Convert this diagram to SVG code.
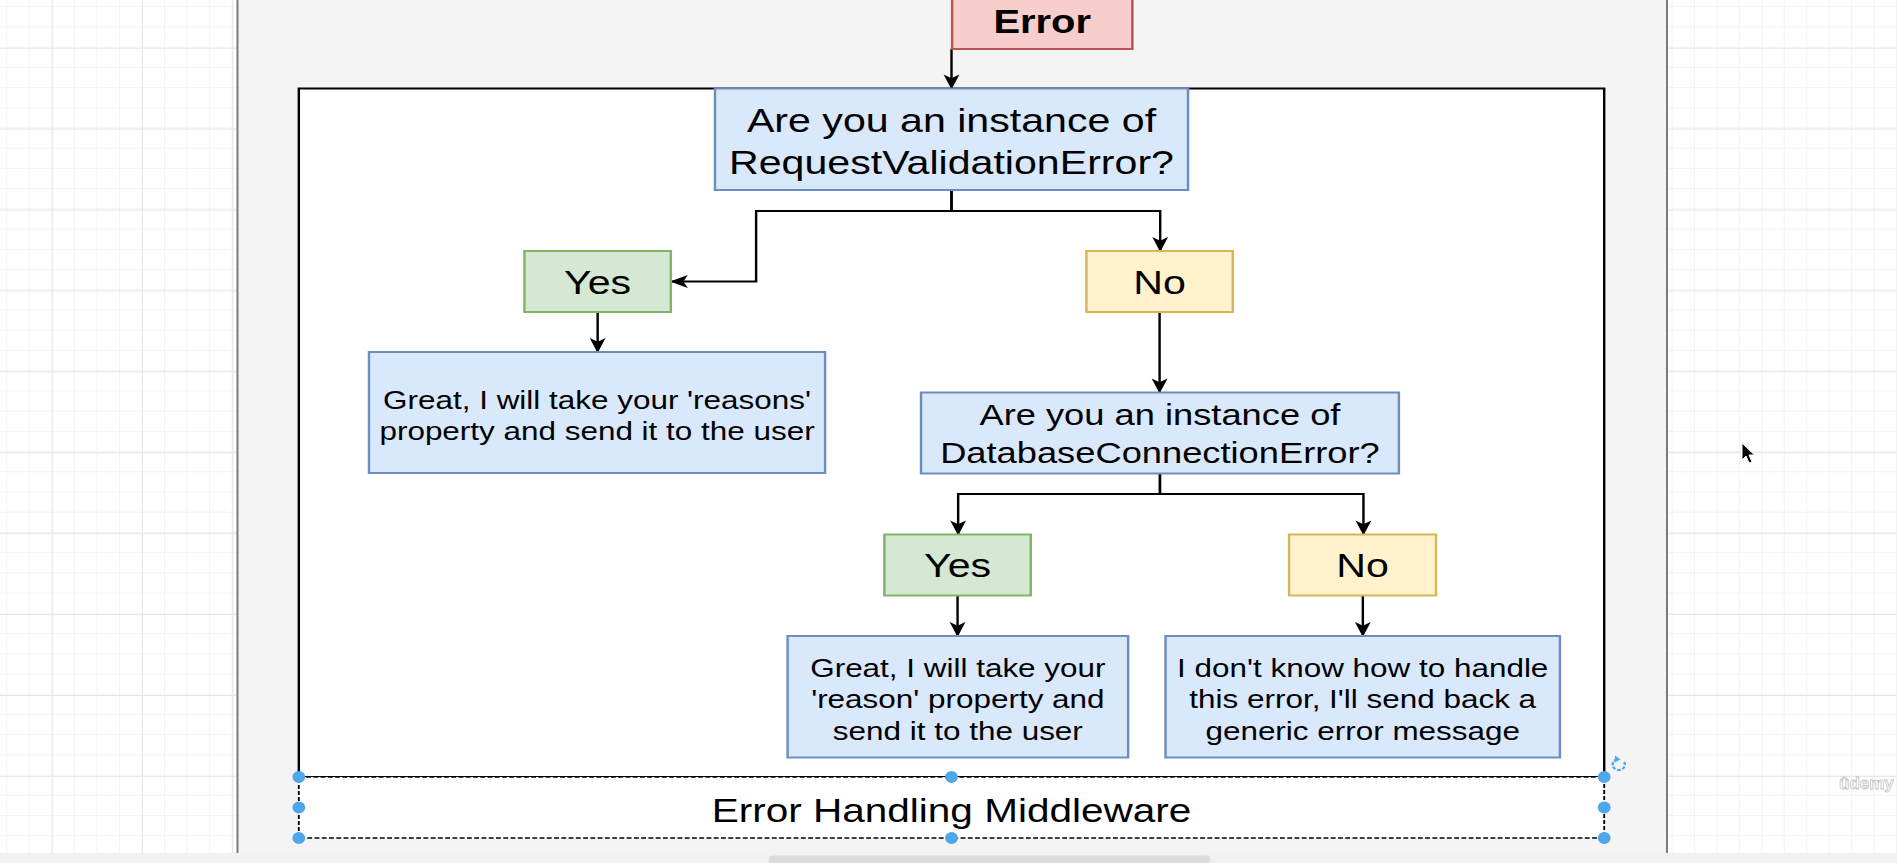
<svg xmlns="http://www.w3.org/2000/svg" width="1897" height="863" viewBox="0 0 1897 863">
<style>
  text { font-family: "Liberation Sans", Arial, Helvetica, sans-serif; fill: #000; text-anchor: middle; }
  .q { fill: #dae8fc; stroke: #6c8ebf; stroke-width: 2; }
  .yes { fill: #d5e8d4; stroke: #82b366; stroke-width: 2; }
  .no { fill: #fff2cc; stroke: #d6b656; stroke-width: 2; }
  .err { fill: #f8cecc; stroke: #b85450; stroke-width: 2; }
  .edge { fill: none; stroke: #000; stroke-width: 2; marker-end: url(#arrow); }
  .handle { fill: #4ea7ea; stroke: none; }
  .t34 { font-size: 34px; }
  .t30 { font-size: 30px; }
  .yn { font-size: 34px; }
  .t26 { font-size: 26px; }
</style>
<defs>
  <pattern id="gridMinorL" x="6.2" y="6.2" width="22.55" height="20.22" patternUnits="userSpaceOnUse">
    <path d="M0.5 0V20.22M0 0.5H22.55" stroke="#f3f3f3" stroke-width="1" fill="none"/>
  </pattern>
  <pattern id="gridMajorL" x="51.8" y="47.8" width="90.2" height="80.9" patternUnits="userSpaceOnUse">
    <path d="M0.5 0V80.9M0 0.5H90.2" stroke="#e6e6e6" stroke-width="1" fill="none"/>
  </pattern>
  <pattern id="gridMinorR" x="1671.5" y="6.2" width="22.45" height="20.22" patternUnits="userSpaceOnUse">
    <path d="M0.5 0V20.22M0 0.5H22.45" stroke="#f3f3f3" stroke-width="1" fill="none"/>
  </pattern>
  <pattern id="gridMajorR" x="0" y="47.8" width="1897" height="80.9" patternUnits="userSpaceOnUse">
    <path d="M0 0.5H1897" stroke="#e6e6e6" stroke-width="1" fill="none"/>
  </pattern>
  <marker id="arrow" viewBox="0 0 16 16" markerUnits="userSpaceOnUse" markerWidth="15" markerHeight="15" refX="15" refY="8" orient="auto">
    <path d="M0,1 L16,8 L0,15 L4,8 Z" fill="#000"/>
  </marker>
</defs>

<g id="background">
  <rect x="0" y="0" width="1897" height="863" fill="#ffffff"/>
  <rect x="0" y="0" width="237" height="853" fill="url(#gridMinorL)"/>
  <rect x="0" y="0" width="237" height="853" fill="url(#gridMajorL)"/>
  <rect x="1668" y="0" width="229" height="853" fill="url(#gridMinorR)"/>
  <rect x="1668" y="0" width="229" height="853" fill="url(#gridMajorR)"/>
  <rect x="238" y="0" width="1429" height="853" fill="#f4f4f4"/>
  <line x1="237.5" y1="0" x2="237.5" y2="853" stroke="#7c7c7c" stroke-width="2"/>
  <line x1="1667" y1="0" x2="1667" y2="853" stroke="#7c7c7c" stroke-width="2"/>
  <rect x="0" y="853" width="1897" height="10" fill="#f2f2f2"/>
  <rect x="769" y="855.5" width="441" height="8" rx="3" fill="#dcdcdc"/>
</g>

<g transform="scale(1.2098,1)">
  <g id="container">
    <rect x="247" y="88.5" width="1079" height="688.5" fill="#ffffff" stroke="#000" stroke-width="2"/>
  </g>

  <g id="connectors">
    <path class="edge" d="M786.5,49 V88.5"/>
    <path class="edge" d="M786.5,190 V211 H625 V281.5 H554.5"/>
    <path class="edge" d="M786.5,190 V211 H959 V251"/>
    <path class="edge" d="M494,312 V352"/>
    <path class="edge" d="M958.5,312 V392.5"/>
    <path class="edge" d="M958.8,473.5 V494 H792 V534.5"/>
    <path class="edge" d="M958.8,473.5 V494 H1127 V534.5"/>
    <path class="edge" d="M791.5,595.5 V636"/>
    <path class="edge" d="M1126.5,595.5 V636"/>
  </g>

  <g id="node-error">
    <rect class="err" x="787" y="-9" width="149" height="58"/>
    <text x="861.5" y="33" style="font-size:33px;font-weight:bold">Error</text>
  </g>

  <g id="node-q1">
    <rect class="q" x="591" y="88.5" width="391" height="101.5"/>
    <text class="t34" x="786.5" y="132.5">Are you an instance of</text>
    <text class="t34" x="786.5" y="174">RequestValidationError?</text>
  </g>

  <g id="node-yes1">
    <rect class="yes" x="433.5" y="251" width="121" height="61"/>
    <text class="yn" x="494" y="294">Yes</text>
  </g>

  <g id="node-no1">
    <rect class="no" x="898" y="251" width="121" height="61"/>
    <text class="yn" x="958.5" y="294">No</text>
  </g>

  <g id="node-reason1">
    <rect class="q" x="305" y="352" width="377" height="121"/>
    <text class="t26" x="493.5" y="409">Great, I will take your 'reasons'</text>
    <text class="t26" x="493.5" y="440">property and send it to the user</text>
  </g>

  <g id="node-q2">
    <rect class="q" x="761.3" y="392.5" width="395" height="81"/>
    <text class="t30" x="958.8" y="425">Are you an instance of</text>
    <text class="t30" x="958.8" y="463">DatabaseConnectionError?</text>
  </g>

  <g id="node-yes2">
    <rect class="yes" x="731" y="534.5" width="121" height="61"/>
    <text class="yn" x="791.5" y="577.5">Yes</text>
  </g>

  <g id="node-no2">
    <rect class="no" x="1065.5" y="534.5" width="121.5" height="61"/>
    <text class="yn" x="1126.25" y="577.5">No</text>
  </g>

  <g id="node-reason2">
    <rect class="q" x="651" y="636" width="281.5" height="121.5"/>
    <text class="t26" x="791.75" y="677">Great, I will take your</text>
    <text class="t26" x="791.75" y="708.5">'reason' property and</text>
    <text class="t26" x="791.75" y="740">send it to the user</text>
  </g>

  <g id="node-reason3">
    <rect class="q" x="963.4" y="636" width="326" height="121.5"/>
    <text class="t26" x="1126.4" y="677">I don't know how to handle</text>
    <text class="t26" x="1126.4" y="708.5">this error, I'll send back a</text>
    <text class="t26" x="1126.4" y="740">generic error message</text>
  </g>

  <g id="node-middleware">
    <rect x="247" y="777" width="1079" height="61" fill="#ffffff" stroke="#000" stroke-width="1.5" stroke-dasharray="4 2"/>
    <text x="786.5" y="822" style="font-size:33.5px">Error Handling Middleware</text>
  </g>

  <g id="selection-handles">
    <ellipse class="handle" cx="247" cy="777" rx="5.3" ry="6"/>
    <ellipse class="handle" cx="786.5" cy="777" rx="5.3" ry="6"/>
    <ellipse class="handle" cx="1326" cy="777" rx="5.3" ry="6"/>
    <ellipse class="handle" cx="247" cy="807.5" rx="5.3" ry="6"/>
    <ellipse class="handle" cx="1326" cy="807.5" rx="5.3" ry="6"/>
    <ellipse class="handle" cx="247" cy="838" rx="5.3" ry="6"/>
    <ellipse class="handle" cx="786.5" cy="838" rx="5.3" ry="6"/>
    <ellipse class="handle" cx="1326" cy="838" rx="5.3" ry="6"/>
    <path d="M1342.5,762 A5,5.5 0 1 1 1336,759.5" fill="none" stroke="#4ea7ea" stroke-width="2" stroke-dasharray="3 1.5"/>
    <path d="M1335,755.5 L1339.5,759.5 L1334.5,762.5 Z" fill="#4ea7ea"/>
  </g>
</g>

<g id="cursor">
  <path d="M1742,443 L1742,460 L1746,456 L1749,463 L1752,462 L1749,455 L1754.5,455 Z" fill="#000" stroke="#fff" stroke-width="1"/>
</g>

<g id="watermark">
  <text x="1839" y="789" style="font-size:17px;font-weight:bold;text-anchor:start;fill:#ffffff;stroke:#c4c4c4;stroke-width:0.8">ûdemy</text>
</g>
</svg>
